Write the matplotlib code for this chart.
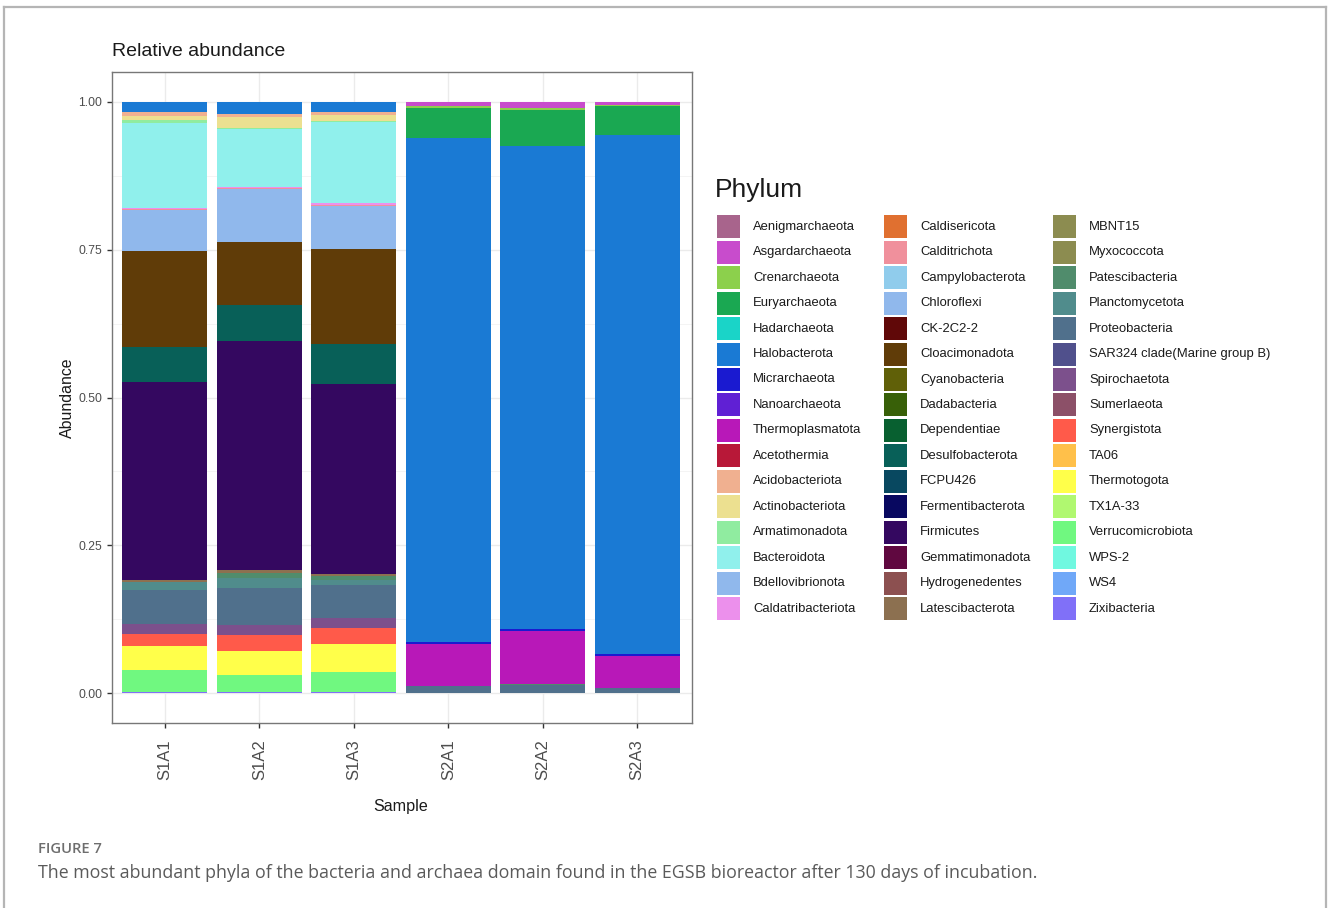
import numpy as np
import pandas as pd
import matplotlib.pyplot as plt
from matplotlib.patches import Rectangle
from matplotlib.lines import Line2D

plt.rcParams['font.family'] = ['Liberation Sans', 'DejaVu Sans']

# Samples and phyla (phyla in legend order; first level is stacked on top)
samples = ["S1A1", "S1A2", "S1A3", "S2A1", "S2A2", "S2A3"]

phyla = [
    "Aenigmarchaeota", "Asgardarchaeota", "Crenarchaeota", "Euryarchaeota",
    "Hadarchaeota", "Halobacterota", "Micrarchaeota", "Nanoarchaeota",
    "Thermoplasmatota", "Acetothermia", "Acidobacteriota", "Actinobacteriota",
    "Armatimonadota", "Bacteroidota", "Bdellovibrionota", "Caldatribacteriota",
    "Caldisericota", "Calditrichota", "Campylobacterota", "Chloroflexi",
    "CK-2C2-2", "Cloacimonadota", "Cyanobacteria", "Dadabacteria",
    "Dependentiae", "Desulfobacterota", "FCPU426", "Fermentibacterota",
    "Firmicutes", "Gemmatimonadota", "Hydrogenedentes", "Latescibacterota",
    "MBNT15", "Myxococcota", "Patescibacteria", "Planctomycetota",
    "Proteobacteria", "SAR324 clade(Marine group B)", "Spirochaetota", "Sumerlaeota",
    "Synergistota", "TA06", "Thermotogota", "TX1A-33",
    "Verrucomicrobiota", "WPS-2", "WS4", "Zixibacteria",
]

phylum_colors = [
    "#a8648c", "#c84ccc", "#8cd04c", "#1aa852",
    "#1ad4c8", "#1a7ad4", "#1a1ad0", "#6020d4",
    "#b818b8", "#b81838", "#f0b090", "#ece090",
    "#90eca0", "#90f0ec", "#90b8ec", "#ec90ec",
    "#e07030", "#f0909c", "#90ccec", "#90b8ec",
    "#600808", "#603c08", "#606008", "#386008",
    "#086030", "#086058", "#084860", "#080860",
    "#340860", "#600840", "#8c5050", "#8c7050",
    "#8c8c50", "#8c8c50", "#508c6c", "#508c8c",
    "#50708c", "#50508c", "#7c508c", "#8c5068",
    "#ff5a4a", "#ffc04a", "#ffff4a", "#b0f870",
    "#70f880", "#70f8e0", "#70a8f8", "#8070f8",
]

# Relative abundance per sample for the phyla that occur
asgardarchaeota    = [0.000, 0.000, 0.000, 0.008, 0.010, 0.005]
crenarchaeota      = [0.000, 0.000, 0.000, 0.003, 0.005, 0.003]
euryarchaeota      = [0.000, 0.000, 0.000, 0.050, 0.060, 0.048]
halobacterota      = [0.018, 0.021, 0.018, 0.852, 0.817, 0.878]
micrarchaeota      = [0.000, 0.000, 0.000, 0.003, 0.003, 0.002]
thermoplasmatota   = [0.000, 0.000, 0.000, 0.071, 0.089, 0.055]
acidobacteriota    = [0.006, 0.005, 0.004, 0.000, 0.000, 0.000]
actinobacteriota   = [0.007, 0.018, 0.010, 0.000, 0.000, 0.000]
armatimonadota     = [0.005, 0.003, 0.003, 0.000, 0.000, 0.000]
bacteroidota       = [0.143, 0.097, 0.137, 0.000, 0.000, 0.000]
caldatribacteriota = [0.002, 0.002, 0.002, 0.000, 0.000, 0.000]
calditrichota      = [0.002, 0.002, 0.002, 0.000, 0.000, 0.000]
chloroflexi        = [0.070, 0.090, 0.073, 0.000, 0.000, 0.000]
cloacimonadota     = [0.161, 0.105, 0.161, 0.000, 0.000, 0.000]
desulfobacterota   = [0.059, 0.062, 0.067, 0.000, 0.000, 0.000]
firmicutes         = [0.336, 0.387, 0.321, 0.000, 0.000, 0.000]
latescibacterota   = [0.003, 0.004, 0.003, 0.000, 0.000, 0.000]
patescibacteria    = [0.000, 0.009, 0.007, 0.000, 0.002, 0.000]
planctomycetota    = [0.013, 0.017, 0.009, 0.000, 0.000, 0.000]
proteobacteria     = [0.057, 0.063, 0.056, 0.013, 0.014, 0.009]
spirochaetota      = [0.017, 0.016, 0.017, 0.000, 0.000, 0.000]
synergistota       = [0.021, 0.027, 0.027, 0.000, 0.000, 0.000]
thermotogota       = [0.041, 0.041, 0.047, 0.000, 0.000, 0.000]
verrucomicrobiota  = [0.036, 0.028, 0.033, 0.000, 0.000, 0.000]
zixibacteria       = [0.003, 0.003, 0.003, 0.000, 0.000, 0.000]

abund = pd.DataFrame(0.0, index=phyla, columns=samples)
abund.loc["Asgardarchaeota"] = asgardarchaeota
abund.loc["Crenarchaeota"] = crenarchaeota
abund.loc["Euryarchaeota"] = euryarchaeota
abund.loc["Halobacterota"] = halobacterota
abund.loc["Micrarchaeota"] = micrarchaeota
abund.loc["Thermoplasmatota"] = thermoplasmatota
abund.loc["Acidobacteriota"] = acidobacteriota
abund.loc["Actinobacteriota"] = actinobacteriota
abund.loc["Armatimonadota"] = armatimonadota
abund.loc["Bacteroidota"] = bacteroidota
abund.loc["Caldatribacteriota"] = caldatribacteriota
abund.loc["Calditrichota"] = calditrichota
abund.loc["Chloroflexi"] = chloroflexi
abund.loc["Cloacimonadota"] = cloacimonadota
abund.loc["Desulfobacterota"] = desulfobacterota
abund.loc["Firmicutes"] = firmicutes
abund.loc["Latescibacterota"] = latescibacterota
abund.loc["Patescibacteria"] = patescibacteria
abund.loc["Planctomycetota"] = planctomycetota
abund.loc["Proteobacteria"] = proteobacteria
abund.loc["Spirochaetota"] = spirochaetota
abund.loc["Synergistota"] = synergistota
abund.loc["Thermotogota"] = thermotogota
abund.loc["Verrucomicrobiota"] = verrucomicrobiota
abund.loc["Zixibacteria"] = zixibacteria

W, H = 1328, 908
fig = plt.figure(figsize=(W / 100, H / 100), dpi=100)
fig.patch.set_facecolor("white")


def fx(px):
    return px / W


def fy(py):
    return 1 - py / H


# outer frame of the figure panel (open at the bottom)
for xs, ys in [((4, 4), (7, H)), ((4, 1326), (7, 7)), ((1326, 1326), (7, H))]:
    fig.add_artist(Line2D([fx(x) for x in xs], [fy(y) for y in ys],
                          color="#b5b5b5", lw=1.6))

ax = fig.add_axes([fx(112), fy(723), fx(692) - fx(112), fy(72) - fy(723)])

x = np.arange(1, len(samples) + 1)
bottom = np.zeros(len(samples))
for name, col in zip(reversed(phyla), reversed(phylum_colors)):
    vals = abund.loc[name].values
    if vals.sum() == 0:
        continue
    ax.bar(x, vals, bottom=bottom, width=0.9, color=col, linewidth=0, zorder=3)
    bottom += vals

ax.set_xlim(0.44, 6.58)
ax.set_ylim(-0.05, 1.05)
ax.set_yticks([0, 0.25, 0.5, 0.75, 1.0])
ax.set_yticklabels(["0.00", "0.25", "0.50", "0.75", "1.00"], fontsize=8.8, color="#4d4d4d")
ax.set_yticks([0.125, 0.375, 0.625, 0.875], minor=True)
ax.set_xticks(x)
ax.set_xticklabels(samples, rotation=90, fontsize=12, color="#4d4d4d")
ax.tick_params(axis="both", which="major", length=3.5, width=1, color="#333333")
ax.tick_params(axis="y", which="minor", length=0)
ax.tick_params(axis="x", pad=8)
ax.grid(True, which="major", color="#ebebeb", lw=1.0, zorder=0)
ax.grid(True, which="minor", axis="y", color="#f2f2f2", lw=0.6, zorder=0)
for sp in ax.spines.values():
    sp.set_color("#777777")
    sp.set_linewidth(1.0)

fig.text(fx(112), fy(52), "Relative abundance", fontsize=14, ha="left", va="center", color="#1a1a1a")
fig.text(fx(67), fy(398), "Abundance", fontsize=11.4, rotation=90, ha="center", va="center", color="#1a1a1a")
fig.text(fx(401), fy(806), "Sample", fontsize=11.6, ha="center", va="center", color="#1a1a1a")

# legend drawn as a 3 x 16 grid of keys
fig.text(fx(715), fy(190), "Phylum", fontsize=19, ha="left", va="center", color="#1a1a1a")
col_left = [717, 884, 1053]
row0, pitch, key = 226.8, 25.45, 23
for i, (name, col) in enumerate(zip(phyla, phylum_colors)):
    c, r = divmod(i, 16)
    cx = col_left[c]
    cy = row0 + r * pitch
    fig.add_artist(Rectangle((fx(cx), fy(cy + key / 2)), key / W, key / H,
                             facecolor=col, edgecolor="none"))
    fig.text(fx(cx + 36), fy(cy), name, fontsize=9.4, ha="left", va="center", color="#1a1a1a")

# caption
fig.text(fx(38), fy(849), "FIGURE 7", fontsize=10.6, family="Open Sans", fontweight="semibold",
         ha="left", va="center", color="#6e6e6e")
fig.text(fx(38), fy(873),
         "The most abundant phyla of the bacteria and archaea domain found in the EGSB bioreactor after 130 days of incubation.",
         fontsize=12.8, family="Open Sans", ha="left", va="center", color="#5a5a5a")

fig.savefig("out.png", dpi=100, facecolor="white")
